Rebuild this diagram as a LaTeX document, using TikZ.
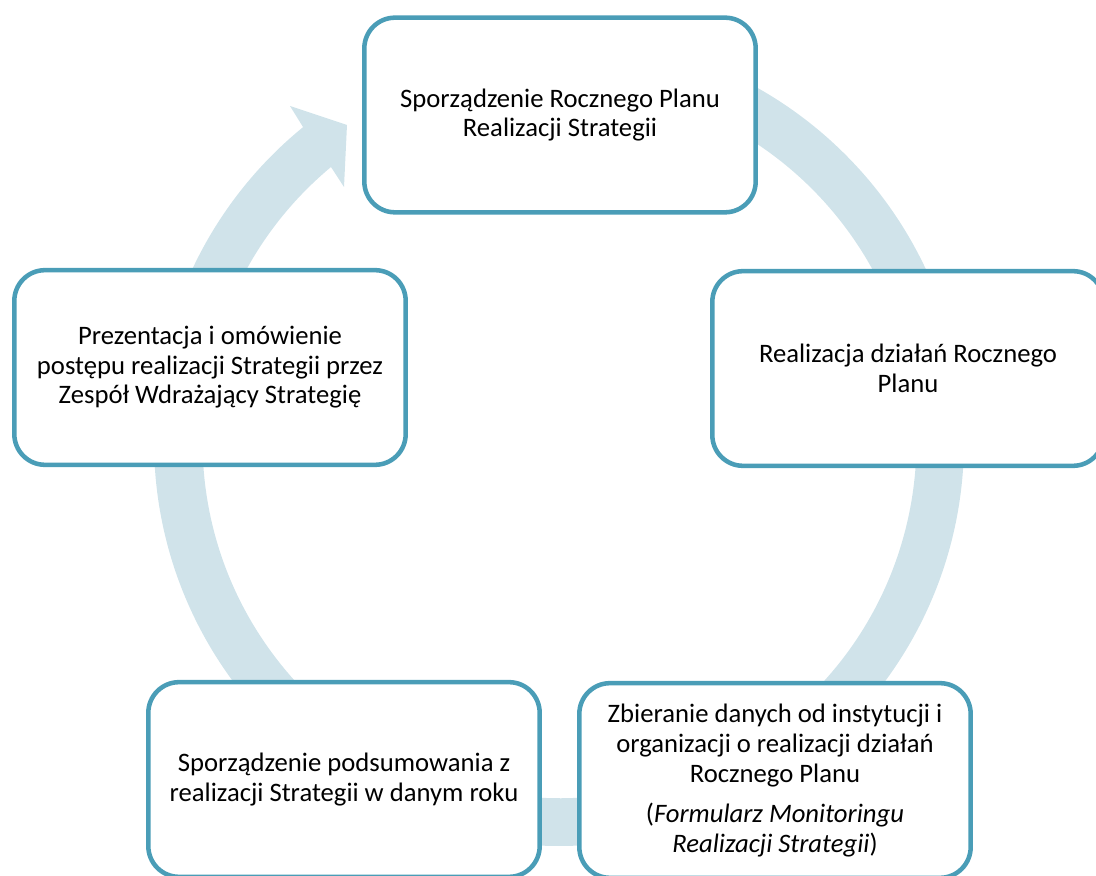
\documentclass[tikz,border=0pt]{standalone}
\usepackage{fontspec}
\setmainfont{Carlito}
\definecolor{ringc}{RGB}{208,227,234}
\definecolor{boxc}{RGB}{74,157,183}
\begin{document}
\begin{tikzpicture}[x=0.75pt,y=0.75pt,
  stage/.style={draw=boxc, line width=3.4pt, fill=white, rounded corners=23pt,
    minimum width=293.5pt, minimum height=146pt, align=center,
    font=\fontsize{20}{22.2}\selectfont, inner sep=0pt}]
\clip (0,0) rectangle (1096,875);
\coordinate (C) at (559,434);
% cyclic arrow ring
\fill[ringc] ([shift={(450:405)}]C) arc[start angle=450,end angle=129.2,radius=405]
  -- (303,748) -- (290,769) -- (347,750) -- (344,688) -- (331,708)
  arc[start angle=129.8,end angle=450,radius=357] -- cycle;
% stages
\node[stage] (plan) at (560,760) {Sporządzenie Rocznego Planu\\Realizacji Strategii};
\node[stage] (realiz) at (908,506.5) {Realizacja działań Rocznego\\Planu};
\node[stage] (zbier) at (775,94.5) {Zbieranie danych od instytucji i\\organizacji o realizacji działań\\Rocznego Planu\\[8pt](\textit{Formularz Monitoringu}\\\textit{Realizacji Strategii})};
\node[stage] (podsum) at (344,95.5) {Sporządzenie podsumowania z\\realizacji Strategii w danym roku};
\node[stage] (prez) at (210,507.5) {Prezentacja i omówienie\\postępu realizacji Strategii przez\\Zespół Wdrażający Strategię};
\end{tikzpicture}
\end{document}
